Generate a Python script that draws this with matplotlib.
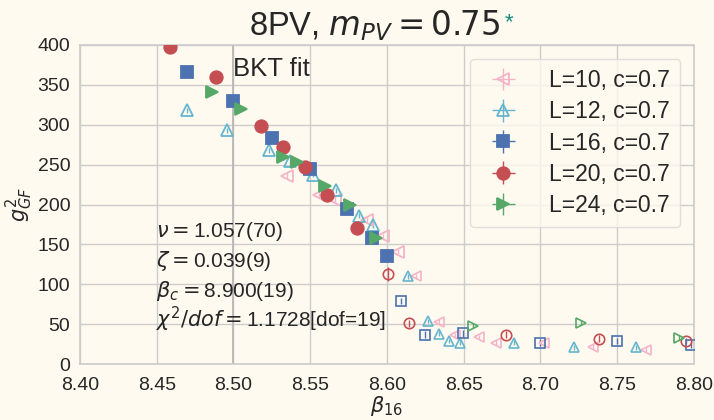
import matplotlib
matplotlib.use("Agg")
import matplotlib.pyplot as plt
import seaborn as sns

sns.set_theme(style="whitegrid")
plt.rcParams['font.family'] = ['Liberation Sans', 'DejaVu Sans']
plt.rcParams['text.color'] = '#262626'

BG = '#fffaf0'

# (beta_16, g^2_GF) points inside the fit window
L10_x = [8.535, 8.556, 8.566, 8.587, 8.5975, 8.607]
L10_y = [236, 212, 206, 181, 160, 141]
L12_x = [8.470, 8.496, 8.523, 8.537, 8.5515, 8.567, 8.5816, 8.591]
L12_y = [318, 293, 268, 254, 237, 218, 186, 174]
L16_x = [8.4695, 8.4994, 8.5248, 8.5497, 8.5742, 8.590, 8.5997]
L16_y = [366, 330, 283, 245, 194, 158, 135]
L20_x = [8.4586, 8.4886, 8.5178, 8.532, 8.5465, 8.5606, 8.5805]
L20_y = [398, 360, 298, 272, 247, 212, 170]
L24_x = [8.4861, 8.5048, 8.5324, 8.5411, 8.5595, 8.5762, 8.5931]
L24_y = [341, 320, 259, 253, 223, 199, 158]

# points left out of the fit
L10_xo = [8.619, 8.634, 8.644, 8.660, 8.671, 8.702, 8.734, 8.769]
L10_yo = [110, 53, 36, 34, 27, 26, 22, 18]
L12_xo = [8.614, 8.627, 8.634, 8.6405, 8.6474, 8.683, 8.722, 8.762]
L12_yo = [110, 54, 38, 29, 27, 27, 21, 21]
L16_xo = [8.6094, 8.6246, 8.6496, 8.6995, 8.7498, 8.798]
L16_yo = [79, 37, 38.5, 27, 29, 24]
L20_xo = [8.6007, 8.6142, 8.6778, 8.7382, 8.7945]
L20_yo = [113, 51, 37, 32, 29]
L24_xo = [8.656, 8.7266, 8.7902]
L24_yo = [48, 52, 33]

# statistical errors
L10_e, L10_eo = 3, 3
L12_e, L12_eo = 3, 3
L16_e, L16_eo = 3, 4
L20_e, L20_eo = 3, [9, 4, 4, 4, 4]
L24_e, L24_eo = 3, 3

labels = ['L=10, c=0.7', 'L=12, c=0.7', 'L=16, c=0.7', 'L=20, c=0.7', 'L=24, c=0.7']
fit_params = [r'$\nu = $1.057(70)', r'$\zeta = $0.039(9)',
              r'$\beta_c = $8.900(19)', r'$\chi^2/dof = $1.1728[dof=19]']

series = [
    (L10_x, L10_y, L10_e, L10_xo, L10_yo, L10_eo, '<', '#f5b3c8', True),
    (L12_x, L12_y, L12_e, L12_xo, L12_yo, L12_eo, '^', '#64b5cd', True),
    (L16_x, L16_y, L16_e, L16_xo, L16_yo, L16_eo, 's', '#4c72b0', False),
    (L20_x, L20_y, L20_e, L20_xo, L20_yo, L20_eo, 'o', '#c44e52', False),
    (L24_x, L24_y, L24_e, L24_xo, L24_yo, L24_eo, '>', '#55a868', False),
]

fig = plt.figure(figsize=(7.14, 4.2), dpi=100, facecolor=BG)
ax = fig.add_subplot(111)
fig.subplots_adjust(left=0.112, right=0.972, bottom=0.133, top=0.893)
ax.set_facecolor(BG)

for (x, y, e, xo, yo, eo, m, c, hollow), lab in zip(series, labels):
    ax.errorbar(x, y, yerr=e, xerr=[0] * len(x), fmt=m, color=c, ms=9,
                mfc='none' if hollow else c, mec=c, mew=1.3, elinewidth=1.0,
                label=lab, zorder=3)
    ax.errorbar(xo, yo, yerr=eo, fmt=m, color=c, ms=7.5, mfc='none', mec=c,
                mew=1.2, elinewidth=1.0, zorder=3)

ax.axvline(8.50, color='#b8b8b8', lw=1.3, zorder=1)

ax.set_xlim(8.40, 8.80)
ax.set_ylim(0, 400)
ax.set_xticks([8.40, 8.45, 8.50, 8.55, 8.60, 8.65, 8.70, 8.75, 8.80])
ax.set_xticklabels(['%.2f' % t for t in ax.get_xticks()])
ax.set_yticks(range(0, 401, 50))
for t in ax.get_xticklabels() + ax.get_yticklabels():
    t.set_fontsize(14)
    t.set_color('#262626')
ax.tick_params(axis='x', length=0, pad=9)
ax.tick_params(axis='y', length=0, pad=7)

ax.set_xlabel(r'$\beta_{16}$', fontsize=15, labelpad=0)
ax.set_ylabel(r'$g^2_{GF}$', fontsize=15, labelpad=2)
for sp in ax.spines.values():
    sp.set_color('#cccccc')
    sp.set_linewidth(1.2)

ttl = ax.set_title(r'8PV, $m_{PV} = 0.75$', fontsize=23.5, x=0.48, pad=7)

ax.text(0.249, 0.903, 'BKT fit', transform=ax.transAxes, fontsize=18.5)
for i, s in enumerate(fit_params):
    ax.text(0.124, 0.398 - 0.094 * i, s, transform=ax.transAxes, fontsize=15,
            va='baseline')

leg = ax.legend(loc='upper right', fontsize=16.5, frameon=True, fancybox=True,
                facecolor=BG, edgecolor='#d8d8d8', framealpha=0.8,
                borderaxespad=0.6, labelspacing=0.36, handletextpad=1.0,
                borderpad=0.45)

# green star just after the title
fig.canvas.draw()
bb = ttl.get_window_extent()
fig.text((bb.x1 + 4) / fig.bbox.width, (bb.y1 - 4) / fig.bbox.height, '*',
         color='#148a78', fontsize=16, va='top', ha='left')

fig.savefig('out.png', dpi=100, facecolor=BG)
